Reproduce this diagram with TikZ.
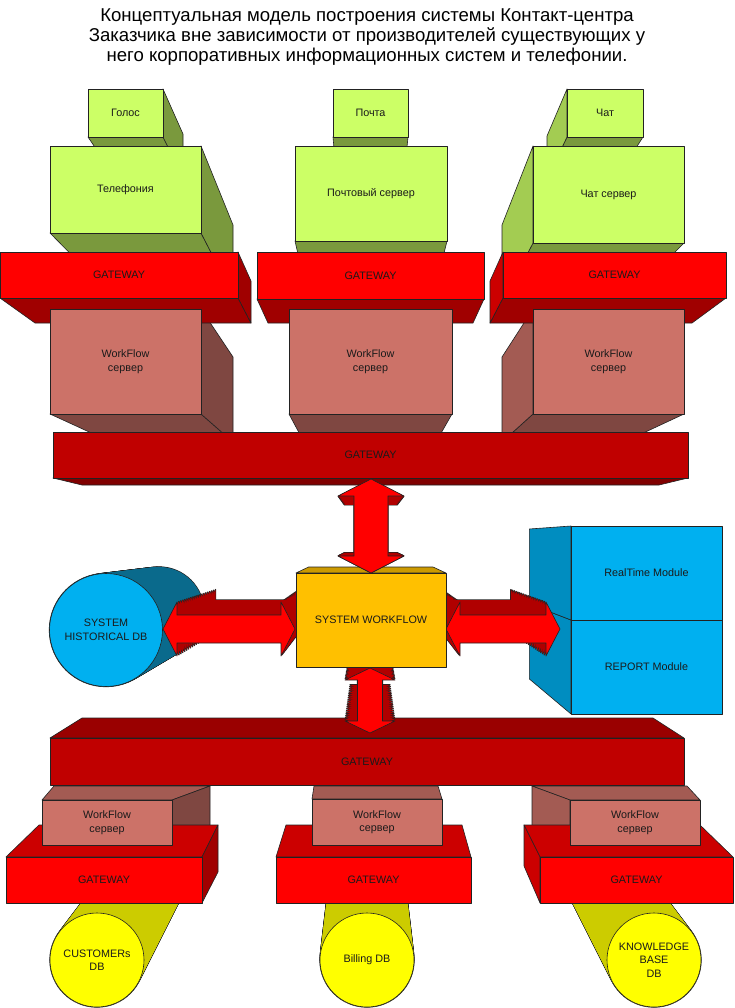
\documentclass[tikz,border=0pt]{standalone}
\usepackage{fontspec}
\setmainfont{Liberation Sans}
\definecolor{grnF}{HTML}{CCFF66}
\definecolor{grnL}{HTML}{A3CC52}
\definecolor{grnD}{HTML}{7A993D}
\definecolor{redF}{HTML}{FF0000}
\definecolor{redL}{HTML}{CC0000}
\definecolor{redD}{HTML}{A00000}
\definecolor{wfF}{HTML}{CC7268}
\definecolor{wfL}{HTML}{A35B53}
\definecolor{wfD}{HTML}{7F4741}
\definecolor{bgF}{HTML}{C00000}
\definecolor{bgL}{HTML}{9A0000}
\definecolor{bgD}{HTML}{800000}
\definecolor{swF}{HTML}{FFC000}
\definecolor{swL}{HTML}{CC9A00}
\definecolor{swD}{HTML}{997300}
\definecolor{blF}{HTML}{00B0F0}
\definecolor{blL}{HTML}{008DC0}
\definecolor{blD}{HTML}{006A90}
\definecolor{cylB}{HTML}{0A6A8C}
\definecolor{yeF}{HTML}{FFFF00}
\definecolor{yeD}{HTML}{CCCC00}
\definecolor{arD}{HTML}{B00000}
\definecolor{edge}{HTML}{222222}
\definecolor{txt}{HTML}{1A1A1A}

% box side faces: front x1 y1 x2 y2, back x1 y1 x2 y2, colour family
\newcommand\bxsides[9]{%
  \ifdim #6pt<#2pt \path[face,fill=#9L] (#1,#2)--(#3,#2)--(#7,#6)--(#5,#6)--cycle;\fi
  \ifdim #8pt>#4pt \path[face,fill=#9D] (#1,#4)--(#3,#4)--(#7,#8)--(#5,#8)--cycle;\fi
  \ifdim #5pt<#1pt \path[face,fill=#9L] (#1,#2)--(#5,#6)--(#5,#8)--(#1,#4)--cycle;\fi
  \ifdim #7pt>#3pt \path[face,fill=#9D] (#3,#2)--(#7,#6)--(#7,#8)--(#3,#4)--cycle;\fi}
% box front face: x1 y1 x2 y2, colour family, name, text
\newcommand\bxfront[7]{%
  \pgfmathsetmacro\bw{#3-#1}\pgfmathsetmacro\bh{#4-#2}%
  \node[face,lbl,fill=#5F,minimum width=\bw pt,minimum height=\bh pt,inner sep=0pt,outer sep=0pt]
    (#6) at ({(#1+#3)/2},{(#2+#4)/2}) {#7};}
% vertical double arrow: cx ytop ybot headlen headhalfwidth shafthalfwidth style
\newcommand\varrow[7]{\path[#7] (#1,#2)--({#1+#5},{#2+#4})--({#1+#6},{#2+#4})--({#1+#6},{#3-#4})--({#1+#5},{#3-#4})--(#1,#3)--({#1-#5},{#3-#4})--({#1-#6},{#3-#4})--({#1-#6},{#2+#4})--({#1-#5},{#2+#4})--cycle;}
% horizontal double arrow: cy xl xr headlen headhalfwidth shafthalfwidth style
\newcommand\harrow[7]{\path[#7] (#2,#1)--({#2+#4},{#1-#5})--({#2+#4},{#1-#6})--({#3-#4},{#1-#6})--({#3-#4},{#1-#5})--(#3,#1)--({#3-#4},{#1+#5})--({#3-#4},{#1+#6})--({#2+#4},{#1+#6})--({#2+#4},{#1+#5})--cycle;}
% extrusion of an arrow towards the vanishing point
\newcommand\sweep[1]{%
  \foreach \i in {20,19,...,1}{\pgfmathsetmacro\s{1-0.01*\i}%
    \begin{scope}[shift={({(1-\s)*370},{(1-\s)*540})},scale=\s]#1{sweepline}\end{scope}}%
  \foreach \i in {20,19,...,1}{\pgfmathsetmacro\s{1-0.01*\i}%
    \begin{scope}[shift={({(1-\s)*370},{(1-\s)*540})},scale=\s]#1{fill=arD}\end{scope}}%
  #1{face,fill=redF}}
% cylinder body: front cx cy r, back cx cy r, colour
\newcommand\cylbody[7]{%
  \foreach \i in {0,...,40}{\pgfmathsetmacro\t{\i/40}%
    \path[sweepline] ({#4+(#1-#4)*\t},{#5+(#2-#5)*\t}) circle[radius={#6+(#3-#6)*\t}];}%
  \foreach \i in {0,...,40}{\pgfmathsetmacro\t{\i/40}%
    \path[fill=#7] ({#4+(#1-#4)*\t},{#5+(#2-#5)*\t}) circle[radius={#6+(#3-#6)*\t}];}}

\begin{document}
\begin{tikzpicture}[x=1pt,y=-1pt,
  face/.style={draw=edge,line width=0.6pt,line join=round},
  lbl/.style={font=\fontsize{10.8}{13.5}\selectfont,align=center,text=txt},
  sweepline/.style={draw=edge,line width=1.3pt,line join=round},
  dbface/.style={face,lbl,circle,inner sep=0pt,outer sep=0pt}]
\useasboundingbox (0,0) rectangle (734,1008);
\fill[white] (0,0) rectangle (734,1008);

\node[font=\fontsize{18.6}{20}\selectfont,align=center,text=black] (title) at (367,37.5)
 {Концептуальная модель построения системы Контакт-центра\\Заказчика вне зависимости от производителей существующих у\\него корпоративных информационных систем и телефонии.};

% ---- top sources
\bxsides{88}{89}{163}{137}{115}{134}{183}{177}{grn}
\bxfront{88}{89}{163}{137}{grn}{golos}{Голос}
\bxsides{333}{89}{408}{137}{336.5}{134}{404}{177}{grn}
\bxfront{333}{89}{408}{137}{grn}{pochta}{Почта}
\bxsides{567}{89}{643}{137}{547}{136}{616}{179}{grn}
\bxfront{567}{89}{643}{137}{grn}{chat}{Чат}
% ---- servers
\bxsides{50}{146}{201}{233}{111}{225}{233}{295}{grn}
\bxfront{50}{146}{201}{233}{grn}{tel}{Телефония}
\bxsides{295}{146}{447}{241}{309}{225}{432}{302}{grn}
\bxfront{295}{146}{447}{241}{grn}{mailsrv}{Почтовый сервер}
\bxsides{533}{146}{684}{243}{502}{225}{624}{303}{grn}
\bxfront{533}{146}{684}{243}{grn}{chatsrv}{Чат сервер}
% ---- upper workflow sides
\bxsides{50}{309}{201}{414}{111}{357}{233}{442}{wf}
\bxsides{289}{309}{452}{414}{304}{357}{436}{442}{wf}
\bxsides{533}{309}{684}{414}{502}{357}{624}{442}{wf}
% ---- upper gateways
\bxsides{0}{252}{238}{298}{35}{281}{251}{323}{red}
\bxfront{0}{252}{238}{298}{red}{gw1}{GATEWAY}
\bxsides{257}{252}{484}{299}{268}{281}{473}{323}{red}
\bxfront{257}{252}{484}{299}{red}{gw2}{GATEWAY}
\bxsides{503}{252}{726}{298}{490}{281}{692}{323}{red}
\bxfront{503}{252}{726}{298}{red}{gw3}{GATEWAY}
% ---- upper workflow fronts
\bxfront{50}{309}{201}{414}{wf}{wf1}{WorkFlow\\сервер}
\bxfront{289}{309}{452}{414}{wf}{wf2}{WorkFlow\\сервер}
\bxfront{533}{309}{684}{414}{wf}{wf3}{WorkFlow\\сервер}
% ---- big upper gateway
\bxsides{53}{432}{688}{478}{82}{444}{659}{485}{bg}
\bxfront{53}{432}{688}{478}{bg}{gwtop}{GATEWAY}

% ---- historical DB
\cylbody{106}{630}{56.5}{159}{612}{45}{cylB}
\node[dbface,fill=blF,minimum size=113pt] (hist) at (106,630) {SYSTEM\\HISTORICAL DB};
% ---- modules
\bxsides{571}{620}{722}{714}{529.4}{604}{650}{679}{bl}
\bxfront{571}{620}{722}{714}{bl}{report}{REPORT Module}
\bxsides{571}{526}{722}{620}{529.4}{529}{650}{604}{bl}
\bxfront{571}{526}{722}{620}{bl}{realtime}{RealTime Module}
% ---- horizontal arrows
\sweep{\harrow{629}{163}{295}{14}{27}{14}}
\sweep{\harrow{629}{446}{560}{14}{27}{14}}

% ---- lower workflow sides
\bxsides{42}{800}{172}{845}{54}{786}{210}{840}{wf}
\bxsides{312}{799}{442}{845}{314}{786}{438}{840}{wf}
\bxsides{570}{800}{700}{845}{532}{786}{687}{840}{wf}
% ---- big lower gateway
\bxsides{50}{738}{684}{785}{82}{718}{653}{760}{bg}
\bxfront{50}{738}{684}{785}{bg}{gwbot}{GATEWAY}
% ---- lower vertical arrow
\sweep{\varrow{370}{668}{733}{12}{25}{12.5}}
% ---- system workflow
\bxsides{296}{573}{446}{667}{308.6}{567}{433}{645}{sw}
\bxfront{296}{573}{446}{667}{sw}{syswf}{SYSTEM WORKFLOW}
% ---- upper vertical arrow
\sweep{\varrow{371}{479}{573}{17}{33}{17}}

% ---- databases
\cylbody{97}{960}{47}{150}{875}{38}{yeD}
\node[dbface,fill=yeF,minimum size=94pt] (cust) at (97,960) {CUSTOMERs\\DB};
\cylbody{367}{960}{47}{367}{875}{37}{yeD}
\node[dbface,fill=yeF,minimum size=94pt] (bill) at (367,960) {Billing DB};
\cylbody{654}{960}{47}{601}{875}{38}{yeD}
\node[dbface,fill=yeF,minimum size=94pt] (know) at (654,960) {KNOWLEDGE\\BASE\\DB};
% ---- lower gateways
\bxsides{6}{857}{202}{903}{39}{825}{218}{872}{red}
\bxfront{6}{857}{202}{903}{red}{lgw1}{GATEWAY}
\bxsides{276}{857}{471}{903}{286}{825}{462}{870}{red}
\bxfront{276}{857}{471}{903}{red}{lgw2}{GATEWAY}
\bxsides{540}{857}{733}{903}{524}{825}{700}{866}{red}
\bxfront{540}{857}{733}{903}{red}{lgw3}{GATEWAY}
% ---- lower workflow fronts
\bxfront{42}{800}{172}{845}{wf}{lwf1}{WorkFlow\\сервер}
\bxfront{312}{799}{442}{845}{wf}{lwf2}{WorkFlow\\сервер}
\bxfront{570}{800}{700}{845}{wf}{lwf3}{WorkFlow\\сервер}
\end{tikzpicture}
\end{document}
